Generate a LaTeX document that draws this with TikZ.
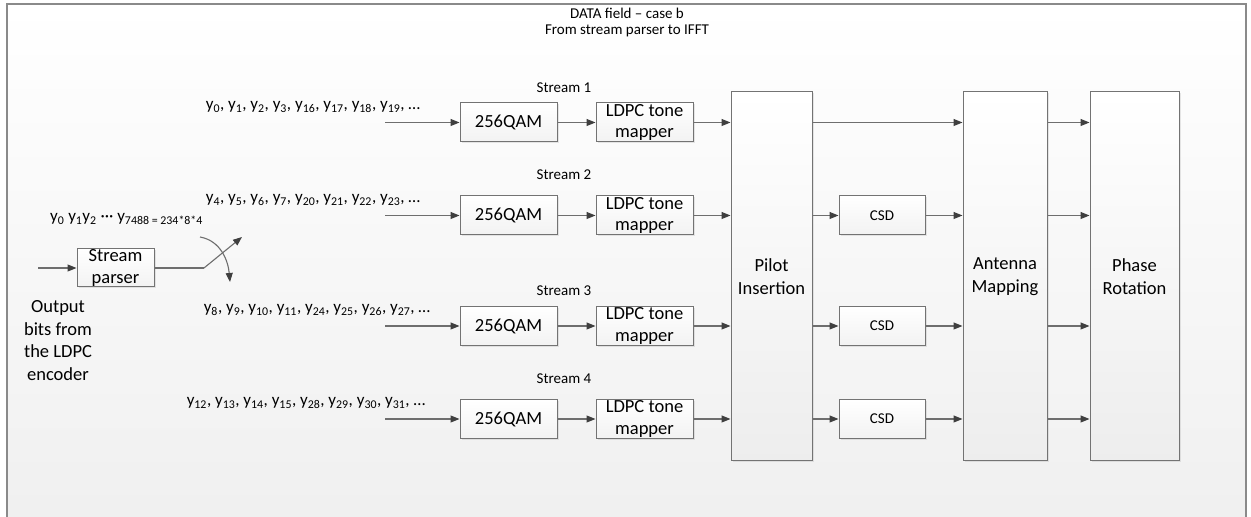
\documentclass[tikz,border=0pt]{standalone}
\usepackage{fontspec}
\setmainfont{Carlito}
\usetikzlibrary{positioning}
\usetikzlibrary{calc}
\usetikzlibrary{arrows.meta}
\usetikzlibrary{shadows}

\definecolor{wiregray}{HTML}{6E6E6E}
\definecolor{headgray}{HTML}{3F3F3F}
\definecolor{boxgray}{HTML}{737373}
\definecolor{framegray}{HTML}{8A8A8A}

\newcommand{\ysub}[1]{y\textsubscript{#1}}

\begin{document}
\begin{tikzpicture}[
                            x=1pt, y=1pt,
                            node distance=38pt,
                            box/.style={draw=boxgray, line width=1pt, top color=white, bottom color=black!5,
                                        drop shadow={shadow xshift=1.5pt, shadow yshift=-1.5pt, opacity=0.18},
                                        align=center, inner sep=0pt, minimum height=39pt,
                                        font=\fontsize{18.5}{21.5}\selectfont},
                            qam/.style={box, minimum width=97pt},
                            tone/.style={box, minimum width=97pt},
                            csd/.style={box, minimum width=86pt, font=\fontsize{15}{18}\selectfont},
                            tall/.style={box, minimum height=369pt, bottom color=black!7,
                                         font=\fontsize{18.5}{23}\selectfont},
                            parser/.style={box, minimum width=77pt, minimum height=38pt},
                            lbl/.style={inner sep=0pt, font=\fontsize{15}{16}\selectfont},
                            seq/.style={inner sep=0pt, font=\fontsize{17}{20}\selectfont},
                            wire/.style={draw=wiregray, line width=1.1pt},
                            flow/.style={wire, -{Triangle[length=9pt, width=7pt, color=headgray]}}
                            ]
                            \useasboundingbox (0,0) rectangle (1251,517);
                            \clip (0,0) rectangle (1251,517);
                            \shade[top color=white, bottom color=black!6] (7,-5) rectangle (1246,513);
                            \draw[framegray, line width=1.2pt] (7,-5) -- (7,513) -- (1246,513) -- (1246,-5);

                            \node[lbl, align=center]            (title) at (627,494.5)  {DATA field -- case b\\From stream parser to IFFT};

                            \node[tall, minimum width=81pt]     (pi)    at (771.5,240.5) {Pilot\\Insertion};
                            \node[tall, minimum width=84pt]     (am)    at (1005,240.5)  {Antenna\\Mapping};
                            \node[tall, minimum width=89pt]     (pr)    at (1134.5,240.5) {Phase\\Rotation};

                            \node[qam]                          (q1)    at (508.5,394.5) {256QAM};
                            \node[qam]                          (q2)    at (508.5,301.5) {256QAM};
                            \node[qam]                          (q3)    at (508.5,191)   {256QAM};
                            \node[qam]                          (q4)    at (508.5,98)    {256QAM};
                            \node[tone, right=of q1]            (t1)    {LDPC tone\\mapper};
                            \node[tone, right=of q2]            (t2)    {LDPC tone\\mapper};
                            \node[tone, right=of q3]            (t3)    {LDPC tone\\mapper};
                            \node[tone, right=of q4]            (t4)    {LDPC tone\\mapper};

                            \node[csd]                          (c2)    at (882,301.5)   {CSD};
                            \node[csd]                          (c3)    at (882,191)     {CSD};
                            \node[csd]                          (c4)    at (882,98)      {CSD};

                            \node[lbl]                          (s1)    at (564,429)     {Stream 1};
                            \node[lbl]                          (s2)    at (564,342)     {Stream 2};
                            \node[lbl]                          (s3)    at (564,226)     {Stream 3};
                            \node[lbl]                          (s4)    at (564,138)     {Stream 4};

                            \node[seq, anchor=base]             (l1)    at (313,407.5)   {\ysub{0}, \ysub{1}, \ysub{2}, \ysub{3}, \ysub{16}, \ysub{17}, \ysub{18}, \ysub{19}, …};
                            \node[seq, anchor=base]             (l2)    at (313,314.5)   {\ysub{4}, \ysub{5}, \ysub{6}, \ysub{7}, \ysub{20}, \ysub{21}, \ysub{22}, \ysub{23}, …};
                            \node[seq, anchor=base]             (l3)    at (317,204)     {\ysub{8}, \ysub{9}, \ysub{10}, \ysub{11}, \ysub{24}, \ysub{25}, \ysub{26}, \ysub{27}, …};
                            \node[seq, anchor=base]             (l4)    at (306,111)     {\ysub{12}, \ysub{13}, \ysub{14}, \ysub{15}, \ysub{28}, \ysub{29}, \ysub{30}, \ysub{31}, …};

                            \node[parser]                       (sp)    at (115.5,249)   {Stream\\parser};
                            \node[seq, anchor=base west]        (bits)  at (50,295)      {\ysub{0} \ysub{1}\ysub{2} \textperiodcentered\textperiodcentered\textperiodcentered{} \ysub{7488 = 234*8*4}};
                            \node[align=center, inner sep=0pt,
                                  font=\fontsize{18.5}{22.5}\selectfont] (src) at (58,176.5) {Output\\bits from\\the LDPC\\encoder};

                            \coordinate                         (in0)   at (38,249);
                            \coordinate                         (sw)    at (204,249);
                            \coordinate                         (swe)   at (242,280);
                            \coordinate                         (cs)    at (200,280);
                            \coordinate                         (ce)    at (230,235);
                            \coordinate                         (i1)    at (385,394.5);
                            \coordinate                         (i2)    at (385,301.5);
                            \coordinate                         (i3)    at (385,191);
                            \coordinate                         (i4)    at (385,98);

                            \path (in0) edge[flow]              (sp);
                            \path (sp)  edge[wire]              (sw);
                            \path (sw)  edge[flow]              (swe);
                            \path (cs)  edge[flow, out=-10, in=95] (ce);

                            \path (i1) edge[flow]               (q1);
                            \path (i2) edge[flow]               (q2);
                            \path (i3) edge[flow]               (q3);
                            \path (i4) edge[flow]               (q4);

                            \path (q1) edge[flow]               (t1);
                            \path (q2) edge[flow]               (t2);
                            \path (q3) edge[flow]               (t3);
                            \path (q4) edge[flow]               (t4);

                            \path (t1) edge[flow]               (t1 -| pi.west);
                            \path (t2) edge[flow]               (t2 -| pi.west);
                            \path (t3) edge[flow]               (t3 -| pi.west);
                            \path (t4) edge[flow]               (t4 -| pi.west);

                            \path (pi.east |- t1) edge[flow]    (am.west |- t1);
                            \path (pi.east |- c2) edge[flow]    (c2);
                            \path (pi.east |- c3) edge[flow]    (c3);
                            \path (pi.east |- c4) edge[flow]    (c4);

                            \path (c2) edge[flow]               (am.west |- c2);
                            \path (c3) edge[flow]               (am.west |- c3);
                            \path (c4) edge[flow]               (am.west |- c4);

                            \path (am.east |- t1) edge[flow]    (pr.west |- t1);
                            \path (am.east |- c2) edge[flow]    (pr.west |- c2);
                            \path (am.east |- c3) edge[flow]    (pr.west |- c3);
                            \path (am.east |- c4) edge[flow]    (pr.west |- c4);
                        \end{tikzpicture}
\end{document}
